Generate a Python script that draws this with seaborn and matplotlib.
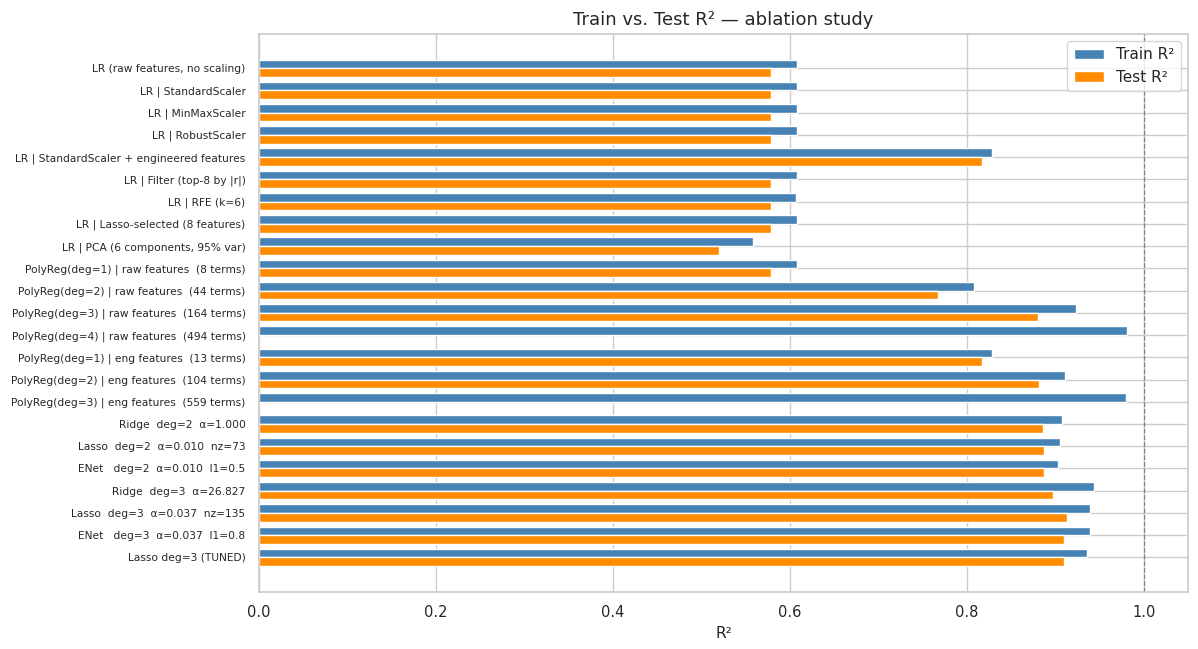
import matplotlib
matplotlib.use("Agg")
import matplotlib.pyplot as plt
import seaborn as sns
import pandas as pd

models = [
    "LR (raw features, no scaling)",
    "LR | StandardScaler",
    "LR | MinMaxScaler",
    "LR | RobustScaler",
    "LR | StandardScaler + engineered features",
    "LR | Filter (top-8 by |r|)",
    "LR | RFE (k=6)",
    "LR | Lasso-selected (8 features)",
    "LR | PCA (6 components, 95% var)",
    "PolyReg(deg=1) | raw features  (8 terms)",
    "PolyReg(deg=2) | raw features  (44 terms)",
    "PolyReg(deg=3) | raw features  (164 terms)",
    "PolyReg(deg=4) | raw features  (494 terms)",
    "PolyReg(deg=1) | eng features  (13 terms)",
    "PolyReg(deg=2) | eng features  (104 terms)",
    "PolyReg(deg=3) | eng features  (559 terms)",
    "Ridge  deg=2  α=1.000",
    "Lasso  deg=2  α=0.010  nz=73",
    "ENet   deg=2  α=0.010  l1=0.5",
    "Ridge  deg=3  α=26.827",
    "Lasso  deg=3  α=0.037  nz=135",
    "ENet   deg=3  α=0.037  l1=0.8",
    "Lasso deg=3 (TUNED)",
]
train_r2 = [0.608, 0.608, 0.608, 0.608, 0.828, 0.608, 0.607, 0.608, 0.558, 0.608,
            0.808, 0.923, 0.981, 0.828, 0.911, 0.980, 0.907, 0.905, 0.903, 0.943,
            0.939, 0.939, 0.936]
test_r2 = [0.578, 0.578, 0.578, 0.578, 0.817, 0.578, 0.578, 0.578, 0.520, 0.578,
           0.767, 0.880, -3.5, 0.817, 0.881, -12.0, 0.886, 0.887, 0.887, 0.897,
           0.913, 0.910, 0.910]
series = ["Train R²", "Test R²"]

df = pd.DataFrame({
    "model": models * 2,
    "r2": train_r2 + test_r2,
    "split": [series[0]] * len(models) + [series[1]] * len(models),
})

sns.set_theme(style="whitegrid")
plt.rcParams['font.family'] = ['DejaVu Sans']

fig, ax = plt.subplots(figsize=(11.98, 6.49), dpi=100)
fig.subplots_adjust(left=0.216, right=0.992, top=0.948, bottom=0.088)

sns.barplot(data=df, y="model", x="r2", hue="split", orient="h",
            palette={"Train R²": "steelblue", "Test R²": "darkorange"},
            saturation=1, width=0.78, ax=ax, order=models, hue_order=series)

n = len(models)
ax.set_ylim(n - 1 + 1.55, -1.55)
ax.set_xlim(0, 1.05)
ax.yaxis.grid(True)
ax.set_axisbelow(True)
ax.axvline(1.0, color="gray", linestyle="--", linewidth=0.9)
ax.tick_params(axis="y", labelsize=7.65)
ax.tick_params(axis="x", labelsize=10.5)
ax.set_ylabel("")
ax.set_xlabel("R²", fontsize=11)
ax.set_title("Train vs. Test R² — ablation study", fontsize=13)
ax.legend(loc="upper right", fontsize=11, title=None)

fig.savefig("out.png", dpi=100)
